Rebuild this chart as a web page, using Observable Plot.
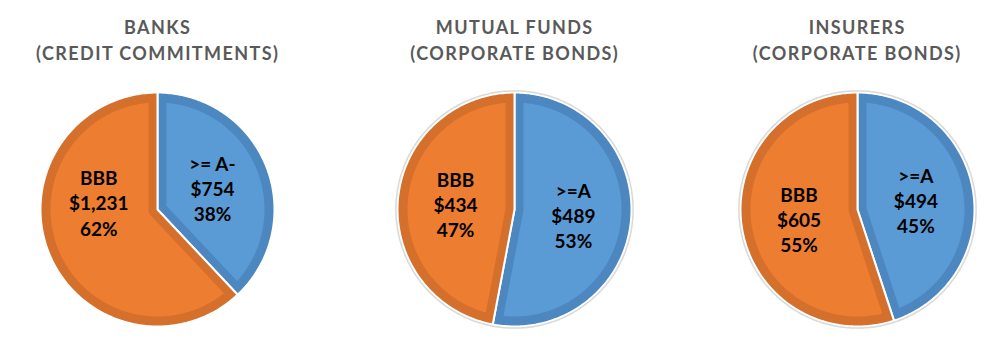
<!DOCTYPE html>
<html>
<head>
<meta charset="utf-8">
<script src="https://cdn.jsdelivr.net/npm/d3@7"></script>
<script src="https://cdn.jsdelivr.net/npm/@observablehq/plot@0.6"></script>
<style>
  body { margin: 0; background: #fff; }
  #wrap { position: relative; width: 1000px; height: 353px; overflow: hidden; font-family: Lato, "Open Sans", sans-serif; }
  .panel { position: absolute; top: 0; width: 340px; height: 353px; }
  .title { position: absolute; top: 0; left: 0; width: 340px; box-sizing: border-box; padding-top: 14px; padding-left: 1.4px;
           text-align: center; font-weight: 700; font-size: 18px; letter-spacing: 1.4px; line-height: 26px; color: #595959; }
  .panel svg { position: absolute; top: 80px; left: 0; }
</style>
</head>
<body>
<div id="wrap"></div>
<script>
// ---- data ----
const titleTop = ["BANKS", "MUTUAL FUNDS", "INSURERS"];
const titleBottom = ["(CREDIT COMMITMENTS)", "(CORPORATE BONDS)", "(CORPORATE BONDS)"];
const highGradeLabels = [">= A-", ">=A", ">=A"];
const bbbLabel = "BBB";
const highGradeValues = [754, 489, 494];   // $ billions
const bbbValues = [1231, 434, 605];        // $ billions

// ---- style ----
const panelCenters = [157, 514, 856.5];
const showRim = [false, true, true];
const blue = "#5B9BD5", blueDark = "#4C87C0";
const orange = "#ED7D31", orangeDark = "#D4702C";
const R_PX = 116;
const band = 9 / R_PX;           // darker inner border width
const labelRadius = 0.51;
const labelAngleOverride = {"0-BBB": 277}; // degrees, clockwise from top

function pt(a, r) { return {x: r * Math.sin(a), y: r * Math.cos(a)}; }
function arcPts(a0, a1, r) {
  const n = Math.max(2, Math.ceil(Math.abs(a1 - a0) / (Math.PI / 180)));
  return d3.range(n + 1).map(i => pt(a0 + (a1 - a0) * i / n, r));
}
function wedge(a0, a1, r) { return [{x: 0, y: 0}, ...arcPts(a0, a1, r)]; }
function insetWedge(a0, a1, R, d) {
  const theta = a1 - a0;
  const ra = R - d;
  const da = Math.asin(d / ra);
  const arc = arcPts(a0 + da, a1 - da, ra);
  if (theta < Math.PI) {
    const apex = pt((a0 + a1) / 2, d / Math.sin(theta / 2));
    return [apex, ...arc];
  }
  // reflex wedge: round the region around the apex
  const f0 = a1 - Math.PI / 2, f1 = a0 + Math.PI / 2;
  return [...arc, ...arcPts(f0, f1, d)];
}

const wrap = document.getElementById("wrap");
const pie = d3.pie().sort(null).value(d => d.value);

titleTop.forEach((t, i) => {
  const slices = [
    {name: highGradeLabels[i], key: "HIGH", value: highGradeValues[i], fill: blue, dark: blueDark},
    {name: bbbLabel, key: "BBB", value: bbbValues[i], fill: orange, dark: orangeDark}
  ];
  const total = d3.sum(slices, d => d.value);
  const arcs = pie(slices);

  const marks = [];
  for (const a of arcs) {
    marks.push(Plot.line(wedge(a.startAngle, a.endAngle, 1 + 1 / R_PX),
      {x: "x", y: "y", curve: "linear-closed", fill: a.data.dark, stroke: "white", strokeWidth: 2}));
  }
  for (const a of arcs) {
    marks.push(Plot.line(insetWedge(a.startAngle, a.endAngle, 1, band),
      {x: "x", y: "y", curve: "linear-closed", fill: a.data.fill, stroke: "none"}));
  }
  if (showRim[i]) {
    marks.push(Plot.line(arcPts(0, 2 * Math.PI, 1 + 2.6 / R_PX),
      {x: "x", y: "y", curve: "linear-closed", stroke: "#d9d9d9", strokeWidth: 1.5, fill: "none"}));
  }
  const labels = arcs.map(a => {
    const ov = labelAngleOverride[`${i}-${a.data.key}`];
    const ang = ov != null ? ov * Math.PI / 180 : (a.startAngle + a.endAngle) / 2;
    const p = pt(ang, labelRadius);
    const pct = Math.round(100 * a.data.value / total);
    return {x: p.x, y: p.y, text: `${a.data.name}\n$${d3.format(",")(a.data.value)}\n${pct}%`};
  });
  marks.push(Plot.text(labels, {x: "x", y: "y", text: "text", fontSize: 19, fontWeight: "bold",
    fontFamily: "Lato", lineHeight: 1.33, fill: "#000"}));

  const chart = Plot.plot({
    width: 340, height: 273,
    marginLeft: 170 - R_PX, marginRight: 170 - R_PX, marginTop: 13, marginBottom: 273 - 13 - 2 * R_PX,
    x: {domain: [-1, 1], axis: null},
    y: {domain: [-1, 1], axis: null},
    style: {background: "transparent", fontFamily: "Lato", overflow: "visible"},
    marks
  });

  const panel = document.createElement("div");
  panel.className = "panel";
  panel.style.left = (panelCenters[i] - 170) + "px";
  const title = document.createElement("div");
  title.className = "title";
  title.innerHTML = `${titleTop[i]}<br>${titleBottom[i]}`;
  panel.appendChild(title);
  panel.appendChild(chart);
  wrap.appendChild(panel);
});
</script>
</body>
</html>
